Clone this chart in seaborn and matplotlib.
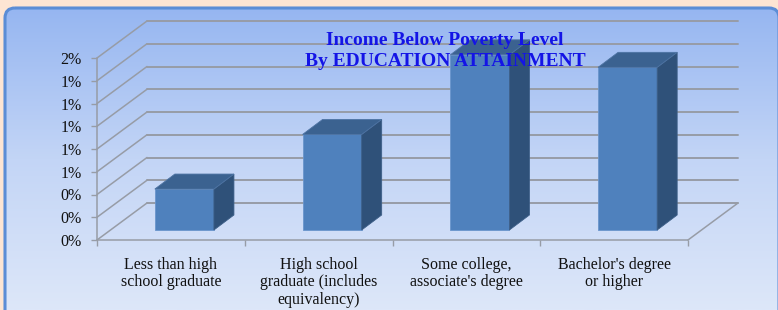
import numpy as np
import pandas as pd
import seaborn as sns
import matplotlib.pyplot as plt
from matplotlib.patches import FancyBboxPatch, Polygon
from matplotlib.colors import LinearSegmentedColormap

categories = [
    "Less than high\nschool graduate",
    "High school\ngraduate (includes\nequivalency)",
    "Some college,\nassociate's degree",
    "Bachelor's degree\nor higher",
]
values = [0.36, 0.84, 1.54, 1.43]  # percent
y_ticks = [0, 0.2, 0.4, 0.6, 0.8, 1.0, 1.2, 1.4, 1.6]
y_labels = ["0%", "0%", "0%", "1%", "1%", "1%", "1%", "1%", "2%"]
title = "Income Below Poverty Level\nBy EDUCATION ATTAINMENT"

sns.set_theme(style="white")
plt.rcParams["font.family"] = ["Liberation Serif", "DejaVu Serif"]

W, H = 778, 310
fig = plt.figure(figsize=(W / 100, H / 100), dpi=100)
fig.patch.set_facecolor("#fde5d3")

# background panel with vertical gradient
bg = fig.add_axes([0, 0, 1, 1])
bg.set_xlim(0, W)
bg.set_ylim(H, 0)
bg.axis("off")
panel = FancyBboxPatch((5, 8), 774, 330, boxstyle="round,pad=0,rounding_size=10",
                       facecolor="none", edgecolor="#5b8dd6", linewidth=2.2, zorder=3)
grad = np.linspace(0, 1, 256).reshape(-1, 1)
cmap = LinearSegmentedColormap.from_list("bgc", ["#96b6f1", "#c3d5f6", "#dde7f9"])
im = bg.imshow(grad, cmap=cmap, aspect="auto", extent=[5, 779, 310, 8], zorder=1)
bg.add_patch(panel)
im.set_clip_path(panel)

# main axes = front plane of the 3D box
x0_px, x1_px, ybot_px, ytop_px = 97, 688, 240, 58
ax = fig.add_axes([x0_px / W, 1 - ybot_px / H, (x1_px - x0_px) / W, (ybot_px - ytop_px) / H])
ax.patch.set_alpha(0)
df = pd.DataFrame({"cat": categories, "val": values})
sns.barplot(data=df, x="cat", y="val", ax=ax, color="#4f81bd", saturation=1,
            width=0.4, edgecolor="#6a95cc", linewidth=0.6)
ax.set_xlim(-0.5, 3.5)
ax.set_ylim(0, 1.6)

px_x = (x1_px - x0_px) / 4.0
px_y = (ybot_px - ytop_px) / 1.6

# wall depth, bar offset and bar depth (pixels -> data)
dxw, dyw = 50 / px_x, 37 / px_y
bx, by = 13.5 / px_x, 10 / px_y
ddx, ddy = 20 / px_x, 15 / px_y

gc = "#979ca6"
for t in y_ticks:
    ax.plot([-0.5 + dxw, 3.5 + dxw], [t + dyw, t + dyw], color=gc, lw=1.4, clip_on=False, zorder=0)
    ax.plot([-0.5, -0.5 + dxw], [t, t + dyw], color=gc, lw=1.1, clip_on=False, zorder=0)
ax.plot([-0.5, 3.5], [0, 0], color=gc, lw=1.1, clip_on=False, zorder=0)
ax.plot([3.5, 3.5 + dxw], [0, dyw], color=gc, lw=1.1, clip_on=False, zorder=0)
ax.plot([-0.5, -0.5], [0, 1.6], color=gc, lw=1.1, clip_on=False, zorder=0)

for p in list(ax.patches):
    x0, w, h = p.get_x(), p.get_width(), p.get_height()
    p.set_x(x0 + bx)
    p.set_y(by)
    p.set_clip_on(False)
    p.set_zorder(2)
    xl, xr, yb, yt = x0 + bx, x0 + bx + w, by, by + h
    side = Polygon([(xr, yb), (xr + ddx, yb + ddy), (xr + ddx, yt + ddy), (xr, yt)],
                   closed=True, facecolor="#2f5179", edgecolor="#3d5f88", lw=0.6,
                   clip_on=False, zorder=2)
    top = Polygon([(xl, yt), (xr, yt), (xr + ddx, yt + ddy), (xl + ddx, yt + ddy)],
                  closed=True, facecolor="#3b6290", edgecolor="#4d73a3", lw=0.6,
                  clip_on=False, zorder=2)
    ax.add_patch(side)
    ax.add_patch(top)

for s in ax.spines.values():
    s.set_visible(False)
ax.set_xlabel("")
ax.set_ylabel("")
ax.set_yticks(y_ticks)
ax.set_yticklabels(y_labels, fontsize=11.5, color="#111111")
ax.tick_params(axis="y", length=4, width=1, color=gc, pad=7, left=True)
ax.set_xticks(range(len(categories)))
ax.set_xticklabels(categories, fontsize=11.5, color="#111111", linespacing=1.15)
ax.tick_params(axis="x", which="major", length=0, pad=12)
ax.set_xticks([-0.5, 0.5, 1.5, 2.5, 3.5], minor=True)
ax.tick_params(axis="x", which="minor", length=4, width=1, color=gc, bottom=True)

fig.text(445 / W, 1 - 32 / H, title, ha="center", va="top", fontsize=14,
         fontweight="bold", color="#1414e6", linespacing=1.3, zorder=10)

fig.savefig("out.png", dpi=100, facecolor=fig.get_facecolor())
